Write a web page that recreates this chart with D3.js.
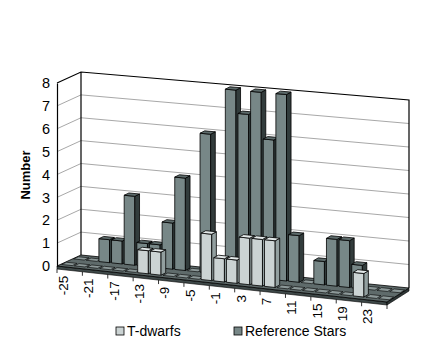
<!DOCTYPE html>
<html>
<head>
<meta charset="utf-8">
<title>T-dwarfs vs reference stars</title>
<style>
  body { margin: 0; background: #fff; }
  svg { font-family: "Liberation Sans", Arial, sans-serif; }
</style>
</head>
<body>
<div id="viz"></div>
<script src="https://d3js.org/d3.v7.min.js"></script>
<script>
// data
const bins = [-25, -23, -21, -19, -17, -15, -13, -11, -9, -7, -5, -3, -1,
              1, 3, 5, 7, 9, 11, 13, 15, 17, 19, 21, 23, 25];
const tDwarfs   = [0,0,0,0,0,0,1,1,0,0,0,2,1,1,2,2,2,0,0,0,0,0,0,1,0,0];
const refStars  = [0,0,1,1,3,1,1,2,4,0,6,0,8,7,8,6,8,2,0,1,2,2,1,0,0,0];
const tickLabels = [-25, -21, -17, -13, -9, -5, -1, 3, 7, 11, 15, 19, 23];
const seriesNames = ["T-dwarfs", "Reference Stars"];
const yTicks = [0, 1, 2, 3, 4, 5, 6, 7, 8];

const W = 436, H = 354;
const svg = d3.select("#viz").append("svg").attr("width", W).attr("height", H);

// corners of the 3d box on screen (front/back, bottom/top, left/right)
const FBL = [57, 266], FBR = [387, 302], BBL = [81, 255], BBR = [409, 288];
const FTL = [57, 83],  FTR = [387, 113], BTL = [81, 72],  BTR = [409, 100];

function lerp(a, b, t) { return [a[0] + (b[0] - a[0]) * t, a[1] + (b[1] - a[1]) * t]; }
// u: along categories, v: value, w: depth (0 front, 1 back)
function proj(u, v, w) {
  const b0 = lerp(lerp(FBL, FBR, u), lerp(BBL, BBR, u), w);
  const b1 = lerp(lerp(FTL, FTR, u), lerp(BTL, BTR, u), w);
  return lerp(b0, b1, v);
}
const poly = pts => "M" + pts.map(p => p.join(",")).join("L") + "Z";

// scales
const x = d3.scaleBand().domain(bins).range([0, 1]).paddingInner(0.16).paddingOuter(0.08);
const z = d3.scaleBand().domain(seriesNames).range([0, 1]).paddingInner(0.6).paddingOuter(0.3);
const v = d3.scaleLinear().domain([0, 8]).range([0, 1]);
const yFront = d3.scaleLinear().domain([0, 8]).range([FBL[1], FTL[1]]);

// walls and floor
svg.append("path").attr("d", poly([proj(0,0,0), proj(0,1,0), proj(0,1,1), proj(0,0,1)]))
  .attr("fill", "#fff");
svg.append("path").attr("d", poly([proj(0,0,1), proj(0,1,1), proj(1,1,1), proj(1,0,1)]))
  .attr("fill", "#fff");

// gridlines
yTicks.filter(d => d > 0 && d < 8).forEach(d => {
  const a = proj(0, v(d), 0), b = proj(0, v(d), 1), c = proj(1, v(d), 1);
  svg.append("path").attr("d", `M${a}L${b}L${c}`)
    .attr("fill", "none").attr("stroke", "#a8a8a8").attr("stroke-width", 1);
});

// wall frame
svg.append("path")
  .attr("d", `M${proj(0,1,0)}L${proj(0,1,1)}L${proj(1,1,1)}L${proj(1,0,1)}M${proj(0,1,1)}L${proj(0,0,1)}`)
  .attr("fill", "none").attr("stroke", "#000").attr("stroke-width", 1.2);

// floor with a bit of thickness
const th = 3;
const f0 = proj(0,0,0), f1 = proj(1,0,0), f2 = proj(1,0,1);
svg.append("path").attr("d", poly([f0, f1, [f1[0], f1[1] + th], [f0[0], f0[1] + th]]))
  .attr("fill", "#3e4848").attr("stroke", "#000").attr("stroke-width", 0.6);
svg.append("path").attr("d", poly([f1, f2, [f2[0], f2[1] + th], [f1[0], f1[1] + th]]))
  .attr("fill", "#2e3636").attr("stroke", "#000").attr("stroke-width", 0.6);
svg.append("path").attr("d", poly([proj(0,0,0), proj(1,0,0), proj(1,0,1), proj(0,0,1)]))
  .attr("fill", "#5f6b6b").attr("stroke", "#000").attr("stroke-width", 0.8);

// front vertical axis
svg.append("g")
  .attr("transform", `translate(${FBL[0]},0)`)
  .call(d3.axisLeft(yFront).tickValues(yTicks).tickSize(0).tickPadding(7).tickFormat(d3.format("d")))
  .call(g => g.select(".domain").attr("stroke", "#000").attr("stroke-width", 1.2))
  .call(g => g.selectAll("text").attr("font-size", 14.5).attr("fill", "#000")
    .style("font-family", "'Liberation Sans', Arial, sans-serif"));

// bars
const colors = {
  "T-dwarfs":        { front: "#cbd3d3", side: "#929f9f", top: "#e3e9e9" },
  "Reference Stars": { front: "#778787", side: "#323c3c", top: "#5d6b6b" }
};
const slabFill = "#8c9898";

function drawRow(name, values) {
  const g = svg.append("g").attr("class", "row");
  const c = colors[name];
  const w0 = z(name), w1 = z(name) + z.bandwidth();
  bins.forEach((b, i) => {
    const u0 = x(b), u1 = x(b) + x.bandwidth();
    const val = values[i];
    if (val === 0) {
      g.append("path").attr("d", poly([proj(u0,0,w0), proj(u1,0,w0), proj(u1,0,w1), proj(u0,0,w1)]))
        .attr("fill", slabFill).attr("stroke", "#000").attr("stroke-width", 0.6);
      return;
    }
    const t = v(val);
    g.append("path").attr("d", poly([proj(u0,0,w0), proj(u1,0,w0), proj(u1,t,w0), proj(u0,t,w0)]))
      .attr("fill", c.front).attr("stroke", "#000").attr("stroke-width", 0.8);
    g.append("path").attr("d", poly([proj(u1,0,w0), proj(u1,0,w1), proj(u1,t,w1), proj(u1,t,w0)]))
      .attr("fill", c.side).attr("stroke", "#000").attr("stroke-width", 0.8);
    g.append("path").attr("d", poly([proj(u0,t,w0), proj(u1,t,w0), proj(u1,t,w1), proj(u0,t,w1)]))
      .attr("fill", c.top).attr("stroke", "#000").attr("stroke-width", 0.8);
  });
}
drawRow("Reference Stars", refStars);
drawRow("T-dwarfs", tDwarfs);

// category ticks and labels along the front edge
const step = x.step();
for (let k = 0; k <= bins.length; k += 2) {
  const p = proj(k * step, 0, 0);
  svg.append("line").attr("x1", p[0]).attr("y1", p[1] + th)
    .attr("x2", p[0]).attr("y2", p[1] + 7).attr("stroke", "#000").attr("stroke-width", 0.8);
}
tickLabels.forEach(d => {
  const p = proj(x(d) + x.bandwidth() / 2, 0, 0);
  svg.append("text")
    .attr("transform", `translate(${p[0]},${p[1] + 9}) rotate(-90)`)
    .attr("text-anchor", "end").attr("dominant-baseline", "central")
    .attr("font-size", 13.5).text(d);
});

// axis title
svg.append("text")
  .attr("transform", "translate(25,175) rotate(-90)")
  .attr("text-anchor", "middle").attr("dominant-baseline", "central")
  .attr("font-size", 13).attr("font-weight", "bold").text("Number");

// legend
const legend = svg.append("g").attr("transform", "translate(116,327)");
const legX = [0, 118];
seriesNames.forEach((s, i) => {
  const lg = legend.append("g").attr("transform", `translate(${legX[i]},0)`);
  lg.append("rect").attr("width", 8).attr("height", 8)
    .attr("fill", colors[s].front).attr("stroke", "#000").attr("stroke-width", 0.8);
  lg.append("text").attr("x", 11).attr("y", 9).attr("font-size", 14).text(s);
});
</script>
</body>
</html>
